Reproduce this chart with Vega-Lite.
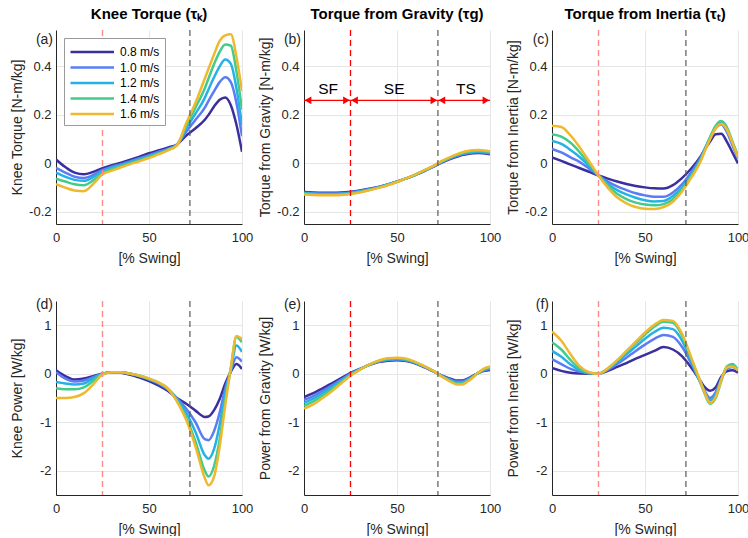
{
"$schema": "https://vega.github.io/schema/vega-lite/v6.json",
"background": "white",
"padding": {"left": 10, "top": 7, "right": 0, "bottom": 0},
"config": {
 "font": "Liberation Sans",
 "view": {"stroke": null},
 "axis": {"labelFontSize": 13, "titleFontSize": 14, "titleFontWeight": "normal", "labelColor": "#262626", "titleColor": "#262626", "domainColor": "#262626", "domainWidth": 1, "ticks": false, "gridColor": "#e6e6e6", "labelPadding": 5, "titlePadding": 4, "labelFlush": false, "labelOverlap": false},
 "axisX": {"labelPadding": 7, "titlePadding": 7},
 "title": {"fontSize": 15, "fontWeight": "bold", "color": "#000000", "offset": 7},
 "text": {"fontSize": 14, "color": "#262626"}
},
"datasets": {
 "ann": [{"x1": 0, "x2": 25, "lab": "SF", "lx": 13}, {"x1": 25, "x2": 72, "lab": "SE", "lx": 48.5}, {"x1": 72, "x2": 100, "lab": "TS", "lx": 87}],
 "d": [
{"p":"a","s":"0.8 m/s","x":0,"y":0.016},{"p":"a","s":"0.8 m/s","x":5,"y":-0.015},{"p":"a","s":"0.8 m/s","x":10,"y":-0.038},{"p":"a","s":"0.8 m/s","x":15,"y":-0.045},{"p":"a","s":"0.8 m/s","x":20,"y":-0.035},{"p":"a","s":"0.8 m/s","x":25,"y":-0.02},{"p":"a","s":"0.8 m/s","x":30,"y":-0.008},{"p":"a","s":"0.8 m/s","x":35,"y":0.003},{"p":"a","s":"0.8 m/s","x":40,"y":0.015},{"p":"a","s":"0.8 m/s","x":45,"y":0.028},{"p":"a","s":"0.8 m/s","x":50,"y":0.042},{"p":"a","s":"0.8 m/s","x":55,"y":0.053},{"p":"a","s":"0.8 m/s","x":60,"y":0.065},{"p":"a","s":"0.8 m/s","x":65,"y":0.078},{"p":"a","s":"0.8 m/s","x":70,"y":0.115},{"p":"a","s":"0.8 m/s","x":75,"y":0.145},{"p":"a","s":"0.8 m/s","x":80,"y":0.18},{"p":"a","s":"0.8 m/s","x":82,"y":0.2},{"p":"a","s":"0.8 m/s","x":85,"y":0.235},{"p":"a","s":"0.8 m/s","x":88,"y":0.262},{"p":"a","s":"0.8 m/s","x":91,"y":0.272},{"p":"a","s":"0.8 m/s","x":94,"y":0.24},{"p":"a","s":"0.8 m/s","x":97,"y":0.16},{"p":"a","s":"0.8 m/s","x":100,"y":0.048},
{"p":"a","s":"1.0 m/s","x":0,"y":-0.018},{"p":"a","s":"1.0 m/s","x":5,"y":-0.038},{"p":"a","s":"1.0 m/s","x":10,"y":-0.055},{"p":"a","s":"1.0 m/s","x":15,"y":-0.06},{"p":"a","s":"1.0 m/s","x":20,"y":-0.048},{"p":"a","s":"1.0 m/s","x":25,"y":-0.027},{"p":"a","s":"1.0 m/s","x":30,"y":-0.014},{"p":"a","s":"1.0 m/s","x":35,"y":-0.003},{"p":"a","s":"1.0 m/s","x":40,"y":0.009},{"p":"a","s":"1.0 m/s","x":45,"y":0.021},{"p":"a","s":"1.0 m/s","x":50,"y":0.034},{"p":"a","s":"1.0 m/s","x":55,"y":0.047},{"p":"a","s":"1.0 m/s","x":60,"y":0.06},{"p":"a","s":"1.0 m/s","x":65,"y":0.077},{"p":"a","s":"1.0 m/s","x":70,"y":0.13},{"p":"a","s":"1.0 m/s","x":75,"y":0.18},{"p":"a","s":"1.0 m/s","x":80,"y":0.23},{"p":"a","s":"1.0 m/s","x":82,"y":0.258},{"p":"a","s":"1.0 m/s","x":85,"y":0.298},{"p":"a","s":"1.0 m/s","x":88,"y":0.335},{"p":"a","s":"1.0 m/s","x":91,"y":0.355},{"p":"a","s":"1.0 m/s","x":94,"y":0.335},{"p":"a","s":"1.0 m/s","x":97,"y":0.25},{"p":"a","s":"1.0 m/s","x":100,"y":0.112},
{"p":"a","s":"1.2 m/s","x":0,"y":-0.038},{"p":"a","s":"1.2 m/s","x":5,"y":-0.055},{"p":"a","s":"1.2 m/s","x":10,"y":-0.068},{"p":"a","s":"1.2 m/s","x":15,"y":-0.072},{"p":"a","s":"1.2 m/s","x":20,"y":-0.057},{"p":"a","s":"1.2 m/s","x":25,"y":-0.033},{"p":"a","s":"1.2 m/s","x":30,"y":-0.019},{"p":"a","s":"1.2 m/s","x":35,"y":-0.007},{"p":"a","s":"1.2 m/s","x":40,"y":0.005},{"p":"a","s":"1.2 m/s","x":45,"y":0.017},{"p":"a","s":"1.2 m/s","x":50,"y":0.03},{"p":"a","s":"1.2 m/s","x":55,"y":0.043},{"p":"a","s":"1.2 m/s","x":60,"y":0.057},{"p":"a","s":"1.2 m/s","x":65,"y":0.076},{"p":"a","s":"1.2 m/s","x":70,"y":0.145},{"p":"a","s":"1.2 m/s","x":75,"y":0.205},{"p":"a","s":"1.2 m/s","x":80,"y":0.27},{"p":"a","s":"1.2 m/s","x":82,"y":0.305},{"p":"a","s":"1.2 m/s","x":85,"y":0.355},{"p":"a","s":"1.2 m/s","x":88,"y":0.4},{"p":"a","s":"1.2 m/s","x":91,"y":0.428},{"p":"a","s":"1.2 m/s","x":94,"y":0.41},{"p":"a","s":"1.2 m/s","x":97,"y":0.31},{"p":"a","s":"1.2 m/s","x":100,"y":0.157},
{"p":"a","s":"1.4 m/s","x":0,"y":-0.063},{"p":"a","s":"1.4 m/s","x":5,"y":-0.075},{"p":"a","s":"1.4 m/s","x":10,"y":-0.086},{"p":"a","s":"1.4 m/s","x":15,"y":-0.09},{"p":"a","s":"1.4 m/s","x":20,"y":-0.07},{"p":"a","s":"1.4 m/s","x":25,"y":-0.04},{"p":"a","s":"1.4 m/s","x":30,"y":-0.024},{"p":"a","s":"1.4 m/s","x":35,"y":-0.011},{"p":"a","s":"1.4 m/s","x":40,"y":0.001},{"p":"a","s":"1.4 m/s","x":45,"y":0.013},{"p":"a","s":"1.4 m/s","x":50,"y":0.026},{"p":"a","s":"1.4 m/s","x":55,"y":0.04},{"p":"a","s":"1.4 m/s","x":60,"y":0.055},{"p":"a","s":"1.4 m/s","x":65,"y":0.075},{"p":"a","s":"1.4 m/s","x":70,"y":0.155},{"p":"a","s":"1.4 m/s","x":75,"y":0.23},{"p":"a","s":"1.4 m/s","x":80,"y":0.31},{"p":"a","s":"1.4 m/s","x":82,"y":0.35},{"p":"a","s":"1.4 m/s","x":85,"y":0.41},{"p":"a","s":"1.4 m/s","x":88,"y":0.46},{"p":"a","s":"1.4 m/s","x":91,"y":0.49},{"p":"a","s":"1.4 m/s","x":94,"y":0.485},{"p":"a","s":"1.4 m/s","x":97,"y":0.38},{"p":"a","s":"1.4 m/s","x":100,"y":0.222},
{"p":"a","s":"1.6 m/s","x":0,"y":-0.086},{"p":"a","s":"1.6 m/s","x":5,"y":-0.1},{"p":"a","s":"1.6 m/s","x":10,"y":-0.112},{"p":"a","s":"1.6 m/s","x":15,"y":-0.115},{"p":"a","s":"1.6 m/s","x":20,"y":-0.085},{"p":"a","s":"1.6 m/s","x":25,"y":-0.045},{"p":"a","s":"1.6 m/s","x":30,"y":-0.03},{"p":"a","s":"1.6 m/s","x":35,"y":-0.016},{"p":"a","s":"1.6 m/s","x":40,"y":-0.003},{"p":"a","s":"1.6 m/s","x":45,"y":0.009},{"p":"a","s":"1.6 m/s","x":50,"y":0.022},{"p":"a","s":"1.6 m/s","x":55,"y":0.037},{"p":"a","s":"1.6 m/s","x":60,"y":0.053},{"p":"a","s":"1.6 m/s","x":65,"y":0.074},{"p":"a","s":"1.6 m/s","x":70,"y":0.165},{"p":"a","s":"1.6 m/s","x":75,"y":0.25},{"p":"a","s":"1.6 m/s","x":80,"y":0.35},{"p":"a","s":"1.6 m/s","x":82,"y":0.39},{"p":"a","s":"1.6 m/s","x":85,"y":0.45},{"p":"a","s":"1.6 m/s","x":88,"y":0.505},{"p":"a","s":"1.6 m/s","x":91,"y":0.528},{"p":"a","s":"1.6 m/s","x":94,"y":0.532},{"p":"a","s":"1.6 m/s","x":97,"y":0.44},{"p":"a","s":"1.6 m/s","x":100,"y":0.297},
{"p":"b","s":"0.8 m/s","x":0,"y":-0.118},{"p":"b","s":"0.8 m/s","x":5,"y":-0.12},{"p":"b","s":"0.8 m/s","x":10,"y":-0.121},{"p":"b","s":"0.8 m/s","x":15,"y":-0.121},{"p":"b","s":"0.8 m/s","x":20,"y":-0.12},{"p":"b","s":"0.8 m/s","x":25,"y":-0.117},{"p":"b","s":"0.8 m/s","x":30,"y":-0.112},{"p":"b","s":"0.8 m/s","x":35,"y":-0.105},{"p":"b","s":"0.8 m/s","x":40,"y":-0.097},{"p":"b","s":"0.8 m/s","x":45,"y":-0.087},{"p":"b","s":"0.8 m/s","x":50,"y":-0.075},{"p":"b","s":"0.8 m/s","x":55,"y":-0.062},{"p":"b","s":"0.8 m/s","x":60,"y":-0.047},{"p":"b","s":"0.8 m/s","x":65,"y":-0.031},{"p":"b","s":"0.8 m/s","x":70,"y":-0.012},{"p":"b","s":"0.8 m/s","x":75,"y":0.006},{"p":"b","s":"0.8 m/s","x":80,"y":0.022},{"p":"b","s":"0.8 m/s","x":82,"y":0.027},{"p":"b","s":"0.8 m/s","x":85,"y":0.034},{"p":"b","s":"0.8 m/s","x":88,"y":0.039},{"p":"b","s":"0.8 m/s","x":91,"y":0.042},{"p":"b","s":"0.8 m/s","x":94,"y":0.043},{"p":"b","s":"0.8 m/s","x":97,"y":0.041},{"p":"b","s":"0.8 m/s","x":100,"y":0.038},
{"p":"b","s":"1.0 m/s","x":0,"y":-0.121},{"p":"b","s":"1.0 m/s","x":5,"y":-0.123},{"p":"b","s":"1.0 m/s","x":10,"y":-0.124},{"p":"b","s":"1.0 m/s","x":15,"y":-0.124},{"p":"b","s":"1.0 m/s","x":20,"y":-0.123},{"p":"b","s":"1.0 m/s","x":25,"y":-0.12},{"p":"b","s":"1.0 m/s","x":30,"y":-0.114},{"p":"b","s":"1.0 m/s","x":35,"y":-0.107},{"p":"b","s":"1.0 m/s","x":40,"y":-0.098},{"p":"b","s":"1.0 m/s","x":45,"y":-0.088},{"p":"b","s":"1.0 m/s","x":50,"y":-0.076},{"p":"b","s":"1.0 m/s","x":55,"y":-0.062},{"p":"b","s":"1.0 m/s","x":60,"y":-0.047},{"p":"b","s":"1.0 m/s","x":65,"y":-0.03},{"p":"b","s":"1.0 m/s","x":70,"y":-0.011},{"p":"b","s":"1.0 m/s","x":75,"y":0.008},{"p":"b","s":"1.0 m/s","x":80,"y":0.025},{"p":"b","s":"1.0 m/s","x":82,"y":0.03},{"p":"b","s":"1.0 m/s","x":85,"y":0.037},{"p":"b","s":"1.0 m/s","x":88,"y":0.042},{"p":"b","s":"1.0 m/s","x":91,"y":0.045},{"p":"b","s":"1.0 m/s","x":94,"y":0.046},{"p":"b","s":"1.0 m/s","x":97,"y":0.044},{"p":"b","s":"1.0 m/s","x":100,"y":0.041},
{"p":"b","s":"1.2 m/s","x":0,"y":-0.123},{"p":"b","s":"1.2 m/s","x":5,"y":-0.125},{"p":"b","s":"1.2 m/s","x":10,"y":-0.126},{"p":"b","s":"1.2 m/s","x":15,"y":-0.126},{"p":"b","s":"1.2 m/s","x":20,"y":-0.125},{"p":"b","s":"1.2 m/s","x":25,"y":-0.122},{"p":"b","s":"1.2 m/s","x":30,"y":-0.116},{"p":"b","s":"1.2 m/s","x":35,"y":-0.108},{"p":"b","s":"1.2 m/s","x":40,"y":-0.099},{"p":"b","s":"1.2 m/s","x":45,"y":-0.088},{"p":"b","s":"1.2 m/s","x":50,"y":-0.076},{"p":"b","s":"1.2 m/s","x":55,"y":-0.062},{"p":"b","s":"1.2 m/s","x":60,"y":-0.046},{"p":"b","s":"1.2 m/s","x":65,"y":-0.029},{"p":"b","s":"1.2 m/s","x":70,"y":-0.01},{"p":"b","s":"1.2 m/s","x":75,"y":0.01},{"p":"b","s":"1.2 m/s","x":80,"y":0.027},{"p":"b","s":"1.2 m/s","x":82,"y":0.032},{"p":"b","s":"1.2 m/s","x":85,"y":0.04},{"p":"b","s":"1.2 m/s","x":88,"y":0.045},{"p":"b","s":"1.2 m/s","x":91,"y":0.048},{"p":"b","s":"1.2 m/s","x":94,"y":0.049},{"p":"b","s":"1.2 m/s","x":97,"y":0.047},{"p":"b","s":"1.2 m/s","x":100,"y":0.044},
{"p":"b","s":"1.4 m/s","x":0,"y":-0.125},{"p":"b","s":"1.4 m/s","x":5,"y":-0.127},{"p":"b","s":"1.4 m/s","x":10,"y":-0.128},{"p":"b","s":"1.4 m/s","x":15,"y":-0.128},{"p":"b","s":"1.4 m/s","x":20,"y":-0.127},{"p":"b","s":"1.4 m/s","x":25,"y":-0.124},{"p":"b","s":"1.4 m/s","x":30,"y":-0.118},{"p":"b","s":"1.4 m/s","x":35,"y":-0.11},{"p":"b","s":"1.4 m/s","x":40,"y":-0.1},{"p":"b","s":"1.4 m/s","x":45,"y":-0.089},{"p":"b","s":"1.4 m/s","x":50,"y":-0.076},{"p":"b","s":"1.4 m/s","x":55,"y":-0.062},{"p":"b","s":"1.4 m/s","x":60,"y":-0.046},{"p":"b","s":"1.4 m/s","x":65,"y":-0.028},{"p":"b","s":"1.4 m/s","x":70,"y":-0.009},{"p":"b","s":"1.4 m/s","x":75,"y":0.011},{"p":"b","s":"1.4 m/s","x":80,"y":0.029},{"p":"b","s":"1.4 m/s","x":82,"y":0.035},{"p":"b","s":"1.4 m/s","x":85,"y":0.043},{"p":"b","s":"1.4 m/s","x":88,"y":0.048},{"p":"b","s":"1.4 m/s","x":91,"y":0.051},{"p":"b","s":"1.4 m/s","x":94,"y":0.052},{"p":"b","s":"1.4 m/s","x":97,"y":0.05},{"p":"b","s":"1.4 m/s","x":100,"y":0.047},
{"p":"b","s":"1.6 m/s","x":0,"y":-0.128},{"p":"b","s":"1.6 m/s","x":5,"y":-0.13},{"p":"b","s":"1.6 m/s","x":10,"y":-0.131},{"p":"b","s":"1.6 m/s","x":15,"y":-0.131},{"p":"b","s":"1.6 m/s","x":20,"y":-0.13},{"p":"b","s":"1.6 m/s","x":25,"y":-0.126},{"p":"b","s":"1.6 m/s","x":30,"y":-0.12},{"p":"b","s":"1.6 m/s","x":35,"y":-0.111},{"p":"b","s":"1.6 m/s","x":40,"y":-0.101},{"p":"b","s":"1.6 m/s","x":45,"y":-0.09},{"p":"b","s":"1.6 m/s","x":50,"y":-0.077},{"p":"b","s":"1.6 m/s","x":55,"y":-0.062},{"p":"b","s":"1.6 m/s","x":60,"y":-0.045},{"p":"b","s":"1.6 m/s","x":65,"y":-0.027},{"p":"b","s":"1.6 m/s","x":70,"y":-0.008},{"p":"b","s":"1.6 m/s","x":75,"y":0.013},{"p":"b","s":"1.6 m/s","x":80,"y":0.031},{"p":"b","s":"1.6 m/s","x":82,"y":0.037},{"p":"b","s":"1.6 m/s","x":85,"y":0.045},{"p":"b","s":"1.6 m/s","x":88,"y":0.051},{"p":"b","s":"1.6 m/s","x":91,"y":0.054},{"p":"b","s":"1.6 m/s","x":94,"y":0.055},{"p":"b","s":"1.6 m/s","x":97,"y":0.053},{"p":"b","s":"1.6 m/s","x":100,"y":0.05},
{"p":"c","s":"0.8 m/s","x":0,"y":0.025},{"p":"c","s":"0.8 m/s","x":5,"y":0.01},{"p":"c","s":"0.8 m/s","x":10,"y":-0.005},{"p":"c","s":"0.8 m/s","x":15,"y":-0.02},{"p":"c","s":"0.8 m/s","x":20,"y":-0.035},{"p":"c","s":"0.8 m/s","x":25,"y":-0.05},{"p":"c","s":"0.8 m/s","x":30,"y":-0.063},{"p":"c","s":"0.8 m/s","x":35,"y":-0.075},{"p":"c","s":"0.8 m/s","x":40,"y":-0.085},{"p":"c","s":"0.8 m/s","x":45,"y":-0.093},{"p":"c","s":"0.8 m/s","x":50,"y":-0.099},{"p":"c","s":"0.8 m/s","x":55,"y":-0.103},{"p":"c","s":"0.8 m/s","x":60,"y":-0.104},{"p":"c","s":"0.8 m/s","x":65,"y":-0.09},{"p":"c","s":"0.8 m/s","x":70,"y":-0.06},{"p":"c","s":"0.8 m/s","x":75,"y":-0.02},{"p":"c","s":"0.8 m/s","x":80,"y":0.03},{"p":"c","s":"0.8 m/s","x":82,"y":0.055},{"p":"c","s":"0.8 m/s","x":85,"y":0.09},{"p":"c","s":"0.8 m/s","x":88,"y":0.12},{"p":"c","s":"0.8 m/s","x":91,"y":0.122},{"p":"c","s":"0.8 m/s","x":94,"y":0.09},{"p":"c","s":"0.8 m/s","x":97,"y":0.045},{"p":"c","s":"0.8 m/s","x":100,"y":0.0},
{"p":"c","s":"1.0 m/s","x":0,"y":0.06},{"p":"c","s":"1.0 m/s","x":5,"y":0.045},{"p":"c","s":"1.0 m/s","x":10,"y":0.025},{"p":"c","s":"1.0 m/s","x":15,"y":0.005},{"p":"c","s":"1.0 m/s","x":20,"y":-0.022},{"p":"c","s":"1.0 m/s","x":25,"y":-0.05},{"p":"c","s":"1.0 m/s","x":30,"y":-0.075},{"p":"c","s":"1.0 m/s","x":35,"y":-0.095},{"p":"c","s":"1.0 m/s","x":40,"y":-0.11},{"p":"c","s":"1.0 m/s","x":45,"y":-0.123},{"p":"c","s":"1.0 m/s","x":50,"y":-0.132},{"p":"c","s":"1.0 m/s","x":55,"y":-0.138},{"p":"c","s":"1.0 m/s","x":60,"y":-0.138},{"p":"c","s":"1.0 m/s","x":65,"y":-0.12},{"p":"c","s":"1.0 m/s","x":70,"y":-0.085},{"p":"c","s":"1.0 m/s","x":75,"y":-0.035},{"p":"c","s":"1.0 m/s","x":80,"y":0.025},{"p":"c","s":"1.0 m/s","x":82,"y":0.058},{"p":"c","s":"1.0 m/s","x":85,"y":0.105},{"p":"c","s":"1.0 m/s","x":88,"y":0.145},{"p":"c","s":"1.0 m/s","x":91,"y":0.16},{"p":"c","s":"1.0 m/s","x":94,"y":0.13},{"p":"c","s":"1.0 m/s","x":97,"y":0.075},{"p":"c","s":"1.0 m/s","x":100,"y":0.02},
{"p":"c","s":"1.2 m/s","x":0,"y":0.092},{"p":"c","s":"1.2 m/s","x":5,"y":0.08},{"p":"c","s":"1.2 m/s","x":10,"y":0.055},{"p":"c","s":"1.2 m/s","x":15,"y":0.025},{"p":"c","s":"1.2 m/s","x":20,"y":-0.012},{"p":"c","s":"1.2 m/s","x":25,"y":-0.05},{"p":"c","s":"1.2 m/s","x":30,"y":-0.085},{"p":"c","s":"1.2 m/s","x":35,"y":-0.11},{"p":"c","s":"1.2 m/s","x":40,"y":-0.128},{"p":"c","s":"1.2 m/s","x":45,"y":-0.142},{"p":"c","s":"1.2 m/s","x":50,"y":-0.152},{"p":"c","s":"1.2 m/s","x":55,"y":-0.157},{"p":"c","s":"1.2 m/s","x":60,"y":-0.155},{"p":"c","s":"1.2 m/s","x":65,"y":-0.135},{"p":"c","s":"1.2 m/s","x":70,"y":-0.098},{"p":"c","s":"1.2 m/s","x":75,"y":-0.045},{"p":"c","s":"1.2 m/s","x":80,"y":0.02},{"p":"c","s":"1.2 m/s","x":82,"y":0.055},{"p":"c","s":"1.2 m/s","x":85,"y":0.107},{"p":"c","s":"1.2 m/s","x":88,"y":0.15},{"p":"c","s":"1.2 m/s","x":91,"y":0.166},{"p":"c","s":"1.2 m/s","x":94,"y":0.14},{"p":"c","s":"1.2 m/s","x":97,"y":0.085},{"p":"c","s":"1.2 m/s","x":100,"y":0.025},
{"p":"c","s":"1.4 m/s","x":0,"y":0.12},{"p":"c","s":"1.4 m/s","x":5,"y":0.11},{"p":"c","s":"1.4 m/s","x":10,"y":0.085},{"p":"c","s":"1.4 m/s","x":15,"y":0.045},{"p":"c","s":"1.4 m/s","x":20,"y":-0.003},{"p":"c","s":"1.4 m/s","x":25,"y":-0.05},{"p":"c","s":"1.4 m/s","x":30,"y":-0.092},{"p":"c","s":"1.4 m/s","x":35,"y":-0.125},{"p":"c","s":"1.4 m/s","x":40,"y":-0.147},{"p":"c","s":"1.4 m/s","x":45,"y":-0.162},{"p":"c","s":"1.4 m/s","x":50,"y":-0.17},{"p":"c","s":"1.4 m/s","x":55,"y":-0.173},{"p":"c","s":"1.4 m/s","x":60,"y":-0.168},{"p":"c","s":"1.4 m/s","x":65,"y":-0.148},{"p":"c","s":"1.4 m/s","x":70,"y":-0.108},{"p":"c","s":"1.4 m/s","x":75,"y":-0.052},{"p":"c","s":"1.4 m/s","x":80,"y":0.015},{"p":"c","s":"1.4 m/s","x":82,"y":0.052},{"p":"c","s":"1.4 m/s","x":85,"y":0.108},{"p":"c","s":"1.4 m/s","x":88,"y":0.155},{"p":"c","s":"1.4 m/s","x":91,"y":0.175},{"p":"c","s":"1.4 m/s","x":94,"y":0.15},{"p":"c","s":"1.4 m/s","x":97,"y":0.09},{"p":"c","s":"1.4 m/s","x":100,"y":0.03},
{"p":"c","s":"1.6 m/s","x":0,"y":0.155},{"p":"c","s":"1.6 m/s","x":5,"y":0.15},{"p":"c","s":"1.6 m/s","x":10,"y":0.115},{"p":"c","s":"1.6 m/s","x":15,"y":0.065},{"p":"c","s":"1.6 m/s","x":20,"y":0.008},{"p":"c","s":"1.6 m/s","x":25,"y":-0.05},{"p":"c","s":"1.6 m/s","x":30,"y":-0.1},{"p":"c","s":"1.6 m/s","x":35,"y":-0.14},{"p":"c","s":"1.6 m/s","x":40,"y":-0.165},{"p":"c","s":"1.6 m/s","x":45,"y":-0.18},{"p":"c","s":"1.6 m/s","x":50,"y":-0.187},{"p":"c","s":"1.6 m/s","x":55,"y":-0.188},{"p":"c","s":"1.6 m/s","x":60,"y":-0.18},{"p":"c","s":"1.6 m/s","x":65,"y":-0.158},{"p":"c","s":"1.6 m/s","x":70,"y":-0.115},{"p":"c","s":"1.6 m/s","x":75,"y":-0.058},{"p":"c","s":"1.6 m/s","x":80,"y":0.01},{"p":"c","s":"1.6 m/s","x":82,"y":0.047},{"p":"c","s":"1.6 m/s","x":85,"y":0.1},{"p":"c","s":"1.6 m/s","x":88,"y":0.145},{"p":"c","s":"1.6 m/s","x":91,"y":0.162},{"p":"c","s":"1.6 m/s","x":94,"y":0.14},{"p":"c","s":"1.6 m/s","x":97,"y":0.085},{"p":"c","s":"1.6 m/s","x":100,"y":0.025},
{"p":"d","s":"0.8 m/s","x":0,"y":0.07},{"p":"d","s":"0.8 m/s","x":5,"y":-0.05},{"p":"d","s":"0.8 m/s","x":10,"y":-0.12},{"p":"d","s":"0.8 m/s","x":15,"y":-0.1},{"p":"d","s":"0.8 m/s","x":20,"y":-0.05},{"p":"d","s":"0.8 m/s","x":25,"y":0.0},{"p":"d","s":"0.8 m/s","x":30,"y":0.03},{"p":"d","s":"0.8 m/s","x":35,"y":0.02},{"p":"d","s":"0.8 m/s","x":40,"y":-0.02},{"p":"d","s":"0.8 m/s","x":45,"y":-0.08},{"p":"d","s":"0.8 m/s","x":50,"y":-0.15},{"p":"d","s":"0.8 m/s","x":55,"y":-0.24},{"p":"d","s":"0.8 m/s","x":60,"y":-0.35},{"p":"d","s":"0.8 m/s","x":65,"y":-0.5},{"p":"d","s":"0.8 m/s","x":70,"y":-0.62},{"p":"d","s":"0.8 m/s","x":75,"y":-0.76},{"p":"d","s":"0.8 m/s","x":80,"y":-0.89},{"p":"d","s":"0.8 m/s","x":82,"y":-0.88},{"p":"d","s":"0.8 m/s","x":85,"y":-0.75},{"p":"d","s":"0.8 m/s","x":88,"y":-0.52},{"p":"d","s":"0.8 m/s","x":91,"y":-0.2},{"p":"d","s":"0.8 m/s","x":94,"y":0.04},{"p":"d","s":"0.8 m/s","x":97,"y":0.2},{"p":"d","s":"0.8 m/s","x":100,"y":0.1},
{"p":"d","s":"1.0 m/s","x":0,"y":0.03},{"p":"d","s":"1.0 m/s","x":5,"y":-0.1},{"p":"d","s":"1.0 m/s","x":10,"y":-0.16},{"p":"d","s":"1.0 m/s","x":15,"y":-0.14},{"p":"d","s":"1.0 m/s","x":20,"y":-0.07},{"p":"d","s":"1.0 m/s","x":25,"y":0.0},{"p":"d","s":"1.0 m/s","x":30,"y":0.03},{"p":"d","s":"1.0 m/s","x":35,"y":0.03},{"p":"d","s":"1.0 m/s","x":40,"y":0.0},{"p":"d","s":"1.0 m/s","x":45,"y":-0.05},{"p":"d","s":"1.0 m/s","x":50,"y":-0.12},{"p":"d","s":"1.0 m/s","x":55,"y":-0.2},{"p":"d","s":"1.0 m/s","x":60,"y":-0.32},{"p":"d","s":"1.0 m/s","x":65,"y":-0.5},{"p":"d","s":"1.0 m/s","x":70,"y":-0.72},{"p":"d","s":"1.0 m/s","x":75,"y":-1.0},{"p":"d","s":"1.0 m/s","x":80,"y":-1.35},{"p":"d","s":"1.0 m/s","x":82,"y":-1.37},{"p":"d","s":"1.0 m/s","x":85,"y":-1.18},{"p":"d","s":"1.0 m/s","x":88,"y":-0.8},{"p":"d","s":"1.0 m/s","x":91,"y":-0.3},{"p":"d","s":"1.0 m/s","x":94,"y":0.06},{"p":"d","s":"1.0 m/s","x":97,"y":0.34},{"p":"d","s":"1.0 m/s","x":100,"y":0.25},
{"p":"d","s":"1.2 m/s","x":0,"y":-0.17},{"p":"d","s":"1.2 m/s","x":5,"y":-0.2},{"p":"d","s":"1.2 m/s","x":10,"y":-0.22},{"p":"d","s":"1.2 m/s","x":15,"y":-0.2},{"p":"d","s":"1.2 m/s","x":20,"y":-0.1},{"p":"d","s":"1.2 m/s","x":25,"y":0.0},{"p":"d","s":"1.2 m/s","x":30,"y":0.03},{"p":"d","s":"1.2 m/s","x":35,"y":0.03},{"p":"d","s":"1.2 m/s","x":40,"y":0.0},{"p":"d","s":"1.2 m/s","x":45,"y":-0.05},{"p":"d","s":"1.2 m/s","x":50,"y":-0.11},{"p":"d","s":"1.2 m/s","x":55,"y":-0.19},{"p":"d","s":"1.2 m/s","x":60,"y":-0.31},{"p":"d","s":"1.2 m/s","x":65,"y":-0.52},{"p":"d","s":"1.2 m/s","x":70,"y":-0.8},{"p":"d","s":"1.2 m/s","x":75,"y":-1.2},{"p":"d","s":"1.2 m/s","x":80,"y":-1.68},{"p":"d","s":"1.2 m/s","x":82,"y":-1.75},{"p":"d","s":"1.2 m/s","x":85,"y":-1.55},{"p":"d","s":"1.2 m/s","x":88,"y":-1.05},{"p":"d","s":"1.2 m/s","x":91,"y":-0.4},{"p":"d","s":"1.2 m/s","x":94,"y":0.09},{"p":"d","s":"1.2 m/s","x":97,"y":0.58},{"p":"d","s":"1.2 m/s","x":100,"y":0.45},
{"p":"d","s":"1.4 m/s","x":0,"y":-0.3},{"p":"d","s":"1.4 m/s","x":5,"y":-0.32},{"p":"d","s":"1.4 m/s","x":10,"y":-0.32},{"p":"d","s":"1.4 m/s","x":15,"y":-0.28},{"p":"d","s":"1.4 m/s","x":20,"y":-0.15},{"p":"d","s":"1.4 m/s","x":25,"y":0.0},{"p":"d","s":"1.4 m/s","x":30,"y":0.03},{"p":"d","s":"1.4 m/s","x":35,"y":0.03},{"p":"d","s":"1.4 m/s","x":40,"y":0.0},{"p":"d","s":"1.4 m/s","x":45,"y":-0.04},{"p":"d","s":"1.4 m/s","x":50,"y":-0.1},{"p":"d","s":"1.4 m/s","x":55,"y":-0.18},{"p":"d","s":"1.4 m/s","x":60,"y":-0.3},{"p":"d","s":"1.4 m/s","x":65,"y":-0.55},{"p":"d","s":"1.4 m/s","x":70,"y":-0.9},{"p":"d","s":"1.4 m/s","x":75,"y":-1.4},{"p":"d","s":"1.4 m/s","x":80,"y":-2.0},{"p":"d","s":"1.4 m/s","x":82,"y":-2.12},{"p":"d","s":"1.4 m/s","x":85,"y":-1.9},{"p":"d","s":"1.4 m/s","x":88,"y":-1.35},{"p":"d","s":"1.4 m/s","x":91,"y":-0.55},{"p":"d","s":"1.4 m/s","x":94,"y":0.12},{"p":"d","s":"1.4 m/s","x":97,"y":0.76},{"p":"d","s":"1.4 m/s","x":100,"y":0.65},
{"p":"d","s":"1.6 m/s","x":0,"y":-0.5},{"p":"d","s":"1.6 m/s","x":5,"y":-0.5},{"p":"d","s":"1.6 m/s","x":10,"y":-0.48},{"p":"d","s":"1.6 m/s","x":15,"y":-0.4},{"p":"d","s":"1.6 m/s","x":20,"y":-0.22},{"p":"d","s":"1.6 m/s","x":25,"y":-0.02},{"p":"d","s":"1.6 m/s","x":30,"y":0.03},{"p":"d","s":"1.6 m/s","x":35,"y":0.03},{"p":"d","s":"1.6 m/s","x":40,"y":0.0},{"p":"d","s":"1.6 m/s","x":45,"y":-0.04},{"p":"d","s":"1.6 m/s","x":50,"y":-0.1},{"p":"d","s":"1.6 m/s","x":55,"y":-0.18},{"p":"d","s":"1.6 m/s","x":60,"y":-0.3},{"p":"d","s":"1.6 m/s","x":65,"y":-0.57},{"p":"d","s":"1.6 m/s","x":70,"y":-0.95},{"p":"d","s":"1.6 m/s","x":75,"y":-1.5},{"p":"d","s":"1.6 m/s","x":80,"y":-2.15},{"p":"d","s":"1.6 m/s","x":82,"y":-2.3},{"p":"d","s":"1.6 m/s","x":85,"y":-2.12},{"p":"d","s":"1.6 m/s","x":88,"y":-1.5},{"p":"d","s":"1.6 m/s","x":91,"y":-0.65},{"p":"d","s":"1.6 m/s","x":94,"y":0.12},{"p":"d","s":"1.6 m/s","x":97,"y":0.78},{"p":"d","s":"1.6 m/s","x":100,"y":0.72},
{"p":"e","s":"0.8 m/s","x":0,"y":-0.48},{"p":"e","s":"0.8 m/s","x":5,"y":-0.4},{"p":"e","s":"0.8 m/s","x":10,"y":-0.3},{"p":"e","s":"0.8 m/s","x":15,"y":-0.2},{"p":"e","s":"0.8 m/s","x":20,"y":-0.09},{"p":"e","s":"0.8 m/s","x":25,"y":0.02},{"p":"e","s":"0.8 m/s","x":30,"y":0.1},{"p":"e","s":"0.8 m/s","x":35,"y":0.18},{"p":"e","s":"0.8 m/s","x":40,"y":0.24},{"p":"e","s":"0.8 m/s","x":45,"y":0.27},{"p":"e","s":"0.8 m/s","x":50,"y":0.28},{"p":"e","s":"0.8 m/s","x":55,"y":0.26},{"p":"e","s":"0.8 m/s","x":60,"y":0.21},{"p":"e","s":"0.8 m/s","x":65,"y":0.13},{"p":"e","s":"0.8 m/s","x":70,"y":0.04},{"p":"e","s":"0.8 m/s","x":75,"y":-0.05},{"p":"e","s":"0.8 m/s","x":80,"y":-0.12},{"p":"e","s":"0.8 m/s","x":82,"y":-0.14},{"p":"e","s":"0.8 m/s","x":85,"y":-0.14},{"p":"e","s":"0.8 m/s","x":88,"y":-0.1},{"p":"e","s":"0.8 m/s","x":91,"y":-0.04},{"p":"e","s":"0.8 m/s","x":94,"y":0.02},{"p":"e","s":"0.8 m/s","x":97,"y":0.06},{"p":"e","s":"0.8 m/s","x":100,"y":0.08},
{"p":"e","s":"1.0 m/s","x":0,"y":-0.54},{"p":"e","s":"1.0 m/s","x":5,"y":-0.46},{"p":"e","s":"1.0 m/s","x":10,"y":-0.35},{"p":"e","s":"1.0 m/s","x":15,"y":-0.24},{"p":"e","s":"1.0 m/s","x":20,"y":-0.12},{"p":"e","s":"1.0 m/s","x":25,"y":0.005},{"p":"e","s":"1.0 m/s","x":30,"y":0.095},{"p":"e","s":"1.0 m/s","x":35,"y":0.183},{"p":"e","s":"1.0 m/s","x":40,"y":0.248},{"p":"e","s":"1.0 m/s","x":45,"y":0.283},{"p":"e","s":"1.0 m/s","x":50,"y":0.293},{"p":"e","s":"1.0 m/s","x":55,"y":0.273},{"p":"e","s":"1.0 m/s","x":60,"y":0.218},{"p":"e","s":"1.0 m/s","x":65,"y":0.135},{"p":"e","s":"1.0 m/s","x":70,"y":0.043},{"p":"e","s":"1.0 m/s","x":75,"y":-0.058},{"p":"e","s":"1.0 m/s","x":80,"y":-0.138},{"p":"e","s":"1.0 m/s","x":82,"y":-0.16},{"p":"e","s":"1.0 m/s","x":85,"y":-0.16},{"p":"e","s":"1.0 m/s","x":88,"y":-0.115},{"p":"e","s":"1.0 m/s","x":91,"y":-0.048},{"p":"e","s":"1.0 m/s","x":94,"y":0.023},{"p":"e","s":"1.0 m/s","x":97,"y":0.073},{"p":"e","s":"1.0 m/s","x":100,"y":0.098},
{"p":"e","s":"1.2 m/s","x":0,"y":-0.6},{"p":"e","s":"1.2 m/s","x":5,"y":-0.515},{"p":"e","s":"1.2 m/s","x":10,"y":-0.4},{"p":"e","s":"1.2 m/s","x":15,"y":-0.28},{"p":"e","s":"1.2 m/s","x":20,"y":-0.145},{"p":"e","s":"1.2 m/s","x":25,"y":-0.01},{"p":"e","s":"1.2 m/s","x":30,"y":0.09},{"p":"e","s":"1.2 m/s","x":35,"y":0.185},{"p":"e","s":"1.2 m/s","x":40,"y":0.255},{"p":"e","s":"1.2 m/s","x":45,"y":0.295},{"p":"e","s":"1.2 m/s","x":50,"y":0.305},{"p":"e","s":"1.2 m/s","x":55,"y":0.285},{"p":"e","s":"1.2 m/s","x":60,"y":0.225},{"p":"e","s":"1.2 m/s","x":65,"y":0.14},{"p":"e","s":"1.2 m/s","x":70,"y":0.045},{"p":"e","s":"1.2 m/s","x":75,"y":-0.065},{"p":"e","s":"1.2 m/s","x":80,"y":-0.155},{"p":"e","s":"1.2 m/s","x":82,"y":-0.18},{"p":"e","s":"1.2 m/s","x":85,"y":-0.18},{"p":"e","s":"1.2 m/s","x":88,"y":-0.13},{"p":"e","s":"1.2 m/s","x":91,"y":-0.055},{"p":"e","s":"1.2 m/s","x":94,"y":0.025},{"p":"e","s":"1.2 m/s","x":97,"y":0.085},{"p":"e","s":"1.2 m/s","x":100,"y":0.115},
{"p":"e","s":"1.4 m/s","x":0,"y":-0.66},{"p":"e","s":"1.4 m/s","x":5,"y":-0.57},{"p":"e","s":"1.4 m/s","x":10,"y":-0.45},{"p":"e","s":"1.4 m/s","x":15,"y":-0.32},{"p":"e","s":"1.4 m/s","x":20,"y":-0.172},{"p":"e","s":"1.4 m/s","x":25,"y":-0.025},{"p":"e","s":"1.4 m/s","x":30,"y":0.085},{"p":"e","s":"1.4 m/s","x":35,"y":0.188},{"p":"e","s":"1.4 m/s","x":40,"y":0.263},{"p":"e","s":"1.4 m/s","x":45,"y":0.308},{"p":"e","s":"1.4 m/s","x":50,"y":0.318},{"p":"e","s":"1.4 m/s","x":55,"y":0.298},{"p":"e","s":"1.4 m/s","x":60,"y":0.233},{"p":"e","s":"1.4 m/s","x":65,"y":0.145},{"p":"e","s":"1.4 m/s","x":70,"y":0.048},{"p":"e","s":"1.4 m/s","x":75,"y":-0.073},{"p":"e","s":"1.4 m/s","x":80,"y":-0.173},{"p":"e","s":"1.4 m/s","x":82,"y":-0.2},{"p":"e","s":"1.4 m/s","x":85,"y":-0.2},{"p":"e","s":"1.4 m/s","x":88,"y":-0.145},{"p":"e","s":"1.4 m/s","x":91,"y":-0.063},{"p":"e","s":"1.4 m/s","x":94,"y":0.028},{"p":"e","s":"1.4 m/s","x":97,"y":0.098},{"p":"e","s":"1.4 m/s","x":100,"y":0.133},
{"p":"e","s":"1.6 m/s","x":0,"y":-0.72},{"p":"e","s":"1.6 m/s","x":5,"y":-0.63},{"p":"e","s":"1.6 m/s","x":10,"y":-0.5},{"p":"e","s":"1.6 m/s","x":15,"y":-0.36},{"p":"e","s":"1.6 m/s","x":20,"y":-0.2},{"p":"e","s":"1.6 m/s","x":25,"y":-0.04},{"p":"e","s":"1.6 m/s","x":30,"y":0.08},{"p":"e","s":"1.6 m/s","x":35,"y":0.19},{"p":"e","s":"1.6 m/s","x":40,"y":0.27},{"p":"e","s":"1.6 m/s","x":45,"y":0.32},{"p":"e","s":"1.6 m/s","x":50,"y":0.33},{"p":"e","s":"1.6 m/s","x":55,"y":0.31},{"p":"e","s":"1.6 m/s","x":60,"y":0.24},{"p":"e","s":"1.6 m/s","x":65,"y":0.15},{"p":"e","s":"1.6 m/s","x":70,"y":0.05},{"p":"e","s":"1.6 m/s","x":75,"y":-0.08},{"p":"e","s":"1.6 m/s","x":80,"y":-0.19},{"p":"e","s":"1.6 m/s","x":82,"y":-0.22},{"p":"e","s":"1.6 m/s","x":85,"y":-0.22},{"p":"e","s":"1.6 m/s","x":88,"y":-0.16},{"p":"e","s":"1.6 m/s","x":91,"y":-0.07},{"p":"e","s":"1.6 m/s","x":94,"y":0.03},{"p":"e","s":"1.6 m/s","x":97,"y":0.11},{"p":"e","s":"1.6 m/s","x":100,"y":0.15},
{"p":"f","s":"0.8 m/s","x":0,"y":0.12},{"p":"f","s":"0.8 m/s","x":5,"y":0.06},{"p":"f","s":"0.8 m/s","x":10,"y":0.02},{"p":"f","s":"0.8 m/s","x":15,"y":0.003},{"p":"f","s":"0.8 m/s","x":20,"y":0.0},{"p":"f","s":"0.8 m/s","x":25,"y":0.0},{"p":"f","s":"0.8 m/s","x":30,"y":0.06},{"p":"f","s":"0.8 m/s","x":35,"y":0.14},{"p":"f","s":"0.8 m/s","x":40,"y":0.22},{"p":"f","s":"0.8 m/s","x":45,"y":0.31},{"p":"f","s":"0.8 m/s","x":50,"y":0.39},{"p":"f","s":"0.8 m/s","x":55,"y":0.47},{"p":"f","s":"0.8 m/s","x":60,"y":0.55},{"p":"f","s":"0.8 m/s","x":65,"y":0.5},{"p":"f","s":"0.8 m/s","x":70,"y":0.36},{"p":"f","s":"0.8 m/s","x":75,"y":0.12},{"p":"f","s":"0.8 m/s","x":80,"y":-0.16},{"p":"f","s":"0.8 m/s","x":82,"y":-0.27},{"p":"f","s":"0.8 m/s","x":85,"y":-0.35},{"p":"f","s":"0.8 m/s","x":88,"y":-0.28},{"p":"f","s":"0.8 m/s","x":91,"y":-0.06},{"p":"f","s":"0.8 m/s","x":94,"y":0.05},{"p":"f","s":"0.8 m/s","x":97,"y":0.07},{"p":"f","s":"0.8 m/s","x":100,"y":0.02},
{"p":"f","s":"1.0 m/s","x":0,"y":0.3},{"p":"f","s":"1.0 m/s","x":5,"y":0.2},{"p":"f","s":"1.0 m/s","x":10,"y":0.1},{"p":"f","s":"1.0 m/s","x":15,"y":0.04},{"p":"f","s":"1.0 m/s","x":20,"y":0.01},{"p":"f","s":"1.0 m/s","x":25,"y":0.0},{"p":"f","s":"1.0 m/s","x":30,"y":0.08},{"p":"f","s":"1.0 m/s","x":35,"y":0.2},{"p":"f","s":"1.0 m/s","x":40,"y":0.33},{"p":"f","s":"1.0 m/s","x":45,"y":0.47},{"p":"f","s":"1.0 m/s","x":50,"y":0.6},{"p":"f","s":"1.0 m/s","x":55,"y":0.72},{"p":"f","s":"1.0 m/s","x":60,"y":0.8},{"p":"f","s":"1.0 m/s","x":65,"y":0.76},{"p":"f","s":"1.0 m/s","x":70,"y":0.55},{"p":"f","s":"1.0 m/s","x":75,"y":0.2},{"p":"f","s":"1.0 m/s","x":80,"y":-0.2},{"p":"f","s":"1.0 m/s","x":82,"y":-0.35},{"p":"f","s":"1.0 m/s","x":85,"y":-0.5},{"p":"f","s":"1.0 m/s","x":88,"y":-0.38},{"p":"f","s":"1.0 m/s","x":91,"y":-0.1},{"p":"f","s":"1.0 m/s","x":94,"y":0.1},{"p":"f","s":"1.0 m/s","x":97,"y":0.14},{"p":"f","s":"1.0 m/s","x":100,"y":0.06},
{"p":"f","s":"1.2 m/s","x":0,"y":0.47},{"p":"f","s":"1.2 m/s","x":5,"y":0.35},{"p":"f","s":"1.2 m/s","x":10,"y":0.19},{"p":"f","s":"1.2 m/s","x":15,"y":0.07},{"p":"f","s":"1.2 m/s","x":20,"y":0.01},{"p":"f","s":"1.2 m/s","x":25,"y":0.0},{"p":"f","s":"1.2 m/s","x":30,"y":0.1},{"p":"f","s":"1.2 m/s","x":35,"y":0.24},{"p":"f","s":"1.2 m/s","x":40,"y":0.4},{"p":"f","s":"1.2 m/s","x":45,"y":0.56},{"p":"f","s":"1.2 m/s","x":50,"y":0.72},{"p":"f","s":"1.2 m/s","x":55,"y":0.86},{"p":"f","s":"1.2 m/s","x":60,"y":0.95},{"p":"f","s":"1.2 m/s","x":65,"y":0.92},{"p":"f","s":"1.2 m/s","x":70,"y":0.68},{"p":"f","s":"1.2 m/s","x":75,"y":0.25},{"p":"f","s":"1.2 m/s","x":80,"y":-0.2},{"p":"f","s":"1.2 m/s","x":82,"y":-0.38},{"p":"f","s":"1.2 m/s","x":85,"y":-0.55},{"p":"f","s":"1.2 m/s","x":88,"y":-0.43},{"p":"f","s":"1.2 m/s","x":91,"y":-0.12},{"p":"f","s":"1.2 m/s","x":94,"y":0.12},{"p":"f","s":"1.2 m/s","x":97,"y":0.17},{"p":"f","s":"1.2 m/s","x":100,"y":0.07},
{"p":"f","s":"1.4 m/s","x":0,"y":0.65},{"p":"f","s":"1.4 m/s","x":5,"y":0.5},{"p":"f","s":"1.4 m/s","x":10,"y":0.28},{"p":"f","s":"1.4 m/s","x":15,"y":0.1},{"p":"f","s":"1.4 m/s","x":20,"y":0.02},{"p":"f","s":"1.4 m/s","x":25,"y":0.0},{"p":"f","s":"1.4 m/s","x":30,"y":0.11},{"p":"f","s":"1.4 m/s","x":35,"y":0.27},{"p":"f","s":"1.4 m/s","x":40,"y":0.45},{"p":"f","s":"1.4 m/s","x":45,"y":0.63},{"p":"f","s":"1.4 m/s","x":50,"y":0.81},{"p":"f","s":"1.4 m/s","x":55,"y":0.97},{"p":"f","s":"1.4 m/s","x":60,"y":1.07},{"p":"f","s":"1.4 m/s","x":65,"y":1.05},{"p":"f","s":"1.4 m/s","x":70,"y":0.78},{"p":"f","s":"1.4 m/s","x":75,"y":0.3},{"p":"f","s":"1.4 m/s","x":80,"y":-0.2},{"p":"f","s":"1.4 m/s","x":82,"y":-0.4},{"p":"f","s":"1.4 m/s","x":85,"y":-0.62},{"p":"f","s":"1.4 m/s","x":88,"y":-0.5},{"p":"f","s":"1.4 m/s","x":91,"y":-0.15},{"p":"f","s":"1.4 m/s","x":94,"y":0.15},{"p":"f","s":"1.4 m/s","x":97,"y":0.2},{"p":"f","s":"1.4 m/s","x":100,"y":0.08},
{"p":"f","s":"1.6 m/s","x":0,"y":0.87},{"p":"f","s":"1.6 m/s","x":5,"y":0.68},{"p":"f","s":"1.6 m/s","x":10,"y":0.4},{"p":"f","s":"1.6 m/s","x":15,"y":0.15},{"p":"f","s":"1.6 m/s","x":20,"y":0.03},{"p":"f","s":"1.6 m/s","x":25,"y":0.0},{"p":"f","s":"1.6 m/s","x":30,"y":0.11},{"p":"f","s":"1.6 m/s","x":35,"y":0.28},{"p":"f","s":"1.6 m/s","x":40,"y":0.47},{"p":"f","s":"1.6 m/s","x":45,"y":0.66},{"p":"f","s":"1.6 m/s","x":50,"y":0.85},{"p":"f","s":"1.6 m/s","x":55,"y":1.01},{"p":"f","s":"1.6 m/s","x":60,"y":1.11},{"p":"f","s":"1.6 m/s","x":65,"y":1.09},{"p":"f","s":"1.6 m/s","x":70,"y":0.82},{"p":"f","s":"1.6 m/s","x":75,"y":0.32},{"p":"f","s":"1.6 m/s","x":80,"y":-0.18},{"p":"f","s":"1.6 m/s","x":82,"y":-0.38},{"p":"f","s":"1.6 m/s","x":85,"y":-0.6},{"p":"f","s":"1.6 m/s","x":88,"y":-0.48},{"p":"f","s":"1.6 m/s","x":91,"y":-0.13},{"p":"f","s":"1.6 m/s","x":94,"y":0.13},{"p":"f","s":"1.6 m/s","x":97,"y":0.15},{"p":"f","s":"1.6 m/s","x":100,"y":0.07}
 ]
},
"resolve": {"scale": {"color": "independent"}, "legend": {"color": "independent"}},
"spacing": 32,
"vconcat": [
 {
  "spacing": 5,
  "resolve": {"scale": {"color": "independent"}, "legend": {"color": "independent"}},
  "hconcat": [
   {
    "width": 186, "height": 194,
    "title": "Knee Torque (τₖ)",
    "layer": [
     {"data": {"name": "d"}, "transform": [{"filter": "datum.p == 'a'"}],
      "mark": {"type": "line", "interpolate": "monotone", "strokeWidth": 2.5, "clip": true},
      "encoding": {
       "x": {"field": "x", "type": "quantitative", "scale": {"domain": [0, 100], "nice": false}, "axis": {"values": [0, 50, 100], "title": "[% Swing]"}},
       "y": {"field": "y", "type": "quantitative", "scale": {"domain": [-0.25, 0.55], "nice": false}, "axis": {"values": [-0.2, 0, 0.2, 0.4], "title": "Knee Torque [N-m/kg]", "labelExpr": "replace(datum.value == 0 ? '0' : format(datum.value, '.1f'), '−', '-')"}},
       "color": {"field": "s", "type": "nominal", "scale": {"domain": ["0.8 m/s", "1.0 m/s", "1.2 m/s", "1.4 m/s", "1.6 m/s"], "range": ["#3b2f9e", "#5b7cf4", "#26b1e6", "#43cb8c", "#efb92f"]},
        "legend": {"orient": "top-left", "offset": 8, "title": null, "symbolType": "M-1,0L4.8,0", "symbolStrokeWidth": 2.5, "symbolSize": 225, "labelOffset": 33, "labelFontSize": 12, "labelColor": "#000000", "strokeColor": "#9a9a9a", "fillColor": "white", "padding": 5, "rowPadding": 0.5}}
      }},
     {"data": {"values": [{}]}, "mark": {"type": "rule", "strokeDash": [6, 4], "color": "#ff8a8a", "strokeWidth": 1.4}, "encoding": {"x": {"datum": 25}}},
     {"data": {"values": [{}]}, "mark": {"type": "rule", "strokeDash": [6, 4], "color": "#5a5a5a", "strokeWidth": 1.2}, "encoding": {"x": {"datum": 72}}},
     {"data": {"values": [{}]}, "mark": {"type": "text", "text": "(a)", "align": "right", "baseline": "middle", "dx": -3}, "encoding": {"x": {"datum": 0}, "y": {"datum": 0.51}}}
    ]
   },
   {
    "width": 186, "height": 194,
    "title": "Torque from Gravity (τg)",
    "layer": [
     {"data": {"name": "d"}, "transform": [{"filter": "datum.p == 'b'"}],
      "mark": {"type": "line", "interpolate": "monotone", "strokeWidth": 2.5, "clip": true},
      "encoding": {
       "x": {"field": "x", "type": "quantitative", "scale": {"domain": [0, 100], "nice": false}, "axis": {"values": [0, 50, 100], "title": "[% Swing]"}},
       "y": {"field": "y", "type": "quantitative", "scale": {"domain": [-0.25, 0.55], "nice": false}, "axis": {"values": [-0.2, 0, 0.2, 0.4], "title": "Torque from Gravity [N-m/kg]", "labelExpr": "replace(datum.value == 0 ? '0' : format(datum.value, '.1f'), '−', '-')"}},
       "color": {"field": "s", "type": "nominal", "scale": {"domain": ["0.8 m/s", "1.0 m/s", "1.2 m/s", "1.4 m/s", "1.6 m/s"], "range": ["#3b2f9e", "#5b7cf4", "#26b1e6", "#43cb8c", "#efb92f"]}, "legend": null}
      }},
     {"data": {"values": [{}]}, "mark": {"type": "rule", "strokeDash": [6, 4], "color": "#ff0000", "strokeWidth": 1.3}, "encoding": {"x": {"datum": 25}}},
     {"data": {"values": [{}]}, "mark": {"type": "rule", "strokeDash": [6, 4], "color": "#5a5a5a", "strokeWidth": 1.2}, "encoding": {"x": {"datum": 72}}},
     {"data": {"name": "ann"}, "mark": {"type": "rule", "color": "#ff0000", "strokeWidth": 1.3}, "encoding": {"x": {"field": "x1", "type": "quantitative"}, "x2": {"field": "x2"}, "y": {"datum": 0.26}}},
     {"data": {"name": "ann"}, "mark": {"type": "point", "shape": "triangle-left", "filled": true, "color": "#ff0000", "opacity": 1, "size": 60, "xOffset": 4}, "encoding": {"x": {"field": "x1", "type": "quantitative"}, "y": {"datum": 0.26}}},
     {"data": {"name": "ann"}, "mark": {"type": "point", "shape": "triangle-right", "filled": true, "color": "#ff0000", "opacity": 1, "size": 60, "xOffset": -4}, "encoding": {"x": {"field": "x2", "type": "quantitative"}, "y": {"datum": 0.26}}},
     {"data": {"name": "ann"}, "mark": {"type": "text", "fontSize": 15.5, "color": "#000000", "baseline": "middle"}, "encoding": {"x": {"field": "lx", "type": "quantitative"}, "y": {"datum": 0.305}, "text": {"field": "lab"}}},
     {"data": {"values": [{}]}, "mark": {"type": "text", "text": "(b)", "align": "right", "baseline": "middle", "dx": -3}, "encoding": {"x": {"datum": 0}, "y": {"datum": 0.51}}}
    ]
   },
   {
    "width": 186, "height": 194,
    "title": "Torque from Inertia (τₜ)",
    "layer": [
     {"data": {"name": "d"}, "transform": [{"filter": "datum.p == 'c'"}],
      "mark": {"type": "line", "interpolate": "monotone", "strokeWidth": 2.5, "clip": true},
      "encoding": {
       "x": {"field": "x", "type": "quantitative", "scale": {"domain": [0, 100], "nice": false}, "axis": {"values": [0, 50, 100], "title": "[% Swing]"}},
       "y": {"field": "y", "type": "quantitative", "scale": {"domain": [-0.25, 0.55], "nice": false}, "axis": {"values": [-0.2, 0, 0.2, 0.4], "title": "Torque from Inertia [N-m/kg]", "labelExpr": "replace(datum.value == 0 ? '0' : format(datum.value, '.1f'), '−', '-')"}},
       "color": {"field": "s", "type": "nominal", "scale": {"domain": ["0.8 m/s", "1.0 m/s", "1.2 m/s", "1.4 m/s", "1.6 m/s"], "range": ["#3b2f9e", "#5b7cf4", "#26b1e6", "#43cb8c", "#efb92f"]}, "legend": null}
      }},
     {"data": {"values": [{}]}, "mark": {"type": "rule", "strokeDash": [6, 4], "color": "#ff8a8a", "strokeWidth": 1.4}, "encoding": {"x": {"datum": 25}}},
     {"data": {"values": [{}]}, "mark": {"type": "rule", "strokeDash": [6, 4], "color": "#5a5a5a", "strokeWidth": 1.2}, "encoding": {"x": {"datum": 72}}},
     {"data": {"values": [{}]}, "mark": {"type": "text", "text": "(c)", "align": "right", "baseline": "middle", "dx": -3}, "encoding": {"x": {"datum": 0}, "y": {"datum": 0.51}}}
    ]
   }
  ]
 },
 {
  "spacing": 5,
  "resolve": {"scale": {"color": "independent"}, "legend": {"color": "independent"}},
  "hconcat": [
   {
    "width": 186, "height": 194,
    "layer": [
     {"data": {"name": "d"}, "transform": [{"filter": "datum.p == 'd'"}],
      "mark": {"type": "line", "interpolate": "monotone", "strokeWidth": 2.5, "clip": true},
      "encoding": {
       "x": {"field": "x", "type": "quantitative", "scale": {"domain": [0, 100], "nice": false}, "axis": {"values": [0, 50, 100], "title": "[% Swing]"}},
       "y": {"field": "y", "type": "quantitative", "scale": {"domain": [-2.5, 1.5], "nice": false}, "axis": {"values": [-2, -1, 0, 1], "title": "Knee Power [W/kg]", "titlePadding": 15, "labelExpr": "replace(format(datum.value, 'd'), '−', '-')"}},
       "color": {"field": "s", "type": "nominal", "scale": {"domain": ["0.8 m/s", "1.0 m/s", "1.2 m/s", "1.4 m/s", "1.6 m/s"], "range": ["#3b2f9e", "#5b7cf4", "#26b1e6", "#43cb8c", "#efb92f"]}, "legend": null}
      }},
     {"data": {"values": [{}]}, "mark": {"type": "rule", "strokeDash": [6, 4], "color": "#ff8a8a", "strokeWidth": 1.4}, "encoding": {"x": {"datum": 25}}},
     {"data": {"values": [{}]}, "mark": {"type": "rule", "strokeDash": [6, 4], "color": "#5a5a5a", "strokeWidth": 1.2}, "encoding": {"x": {"datum": 72}}},
     {"data": {"values": [{}]}, "mark": {"type": "text", "text": "(d)", "align": "right", "baseline": "middle", "dx": -3}, "encoding": {"x": {"datum": 0}, "y": {"datum": 1.42}}}
    ]
   },
   {
    "width": 186, "height": 194,
    "layer": [
     {"data": {"name": "d"}, "transform": [{"filter": "datum.p == 'e'"}],
      "mark": {"type": "line", "interpolate": "monotone", "strokeWidth": 2.5, "clip": true},
      "encoding": {
       "x": {"field": "x", "type": "quantitative", "scale": {"domain": [0, 100], "nice": false}, "axis": {"values": [0, 50, 100], "title": "[% Swing]"}},
       "y": {"field": "y", "type": "quantitative", "scale": {"domain": [-2.5, 1.5], "nice": false}, "axis": {"values": [-2, -1, 0, 1], "title": "Power from Gravity [W/kg]", "titlePadding": 15, "labelExpr": "replace(format(datum.value, 'd'), '−', '-')"}},
       "color": {"field": "s", "type": "nominal", "scale": {"domain": ["0.8 m/s", "1.0 m/s", "1.2 m/s", "1.4 m/s", "1.6 m/s"], "range": ["#3b2f9e", "#5b7cf4", "#26b1e6", "#43cb8c", "#efb92f"]}, "legend": null}
      }},
     {"data": {"values": [{}]}, "mark": {"type": "rule", "strokeDash": [6, 4], "color": "#ff0000", "strokeWidth": 1.3}, "encoding": {"x": {"datum": 25}}},
     {"data": {"values": [{}]}, "mark": {"type": "rule", "strokeDash": [6, 4], "color": "#5a5a5a", "strokeWidth": 1.2}, "encoding": {"x": {"datum": 72}}},
     {"data": {"values": [{}]}, "mark": {"type": "text", "text": "(e)", "align": "right", "baseline": "middle", "dx": -3}, "encoding": {"x": {"datum": 0}, "y": {"datum": 1.42}}}
    ]
   },
   {
    "width": 186, "height": 194,
    "layer": [
     {"data": {"name": "d"}, "transform": [{"filter": "datum.p == 'f'"}],
      "mark": {"type": "line", "interpolate": "monotone", "strokeWidth": 2.5, "clip": true},
      "encoding": {
       "x": {"field": "x", "type": "quantitative", "scale": {"domain": [0, 100], "nice": false}, "axis": {"values": [0, 50, 100], "title": "[% Swing]"}},
       "y": {"field": "y", "type": "quantitative", "scale": {"domain": [-2.5, 1.5], "nice": false}, "axis": {"values": [-2, -1, 0, 1], "title": "Power from Inertia [W/kg]", "titlePadding": 15, "labelExpr": "replace(format(datum.value, 'd'), '−', '-')"}},
       "color": {"field": "s", "type": "nominal", "scale": {"domain": ["0.8 m/s", "1.0 m/s", "1.2 m/s", "1.4 m/s", "1.6 m/s"], "range": ["#3b2f9e", "#5b7cf4", "#26b1e6", "#43cb8c", "#efb92f"]}, "legend": null}
      }},
     {"data": {"values": [{}]}, "mark": {"type": "rule", "strokeDash": [6, 4], "color": "#ff8a8a", "strokeWidth": 1.4}, "encoding": {"x": {"datum": 25}}},
     {"data": {"values": [{}]}, "mark": {"type": "rule", "strokeDash": [6, 4], "color": "#5a5a5a", "strokeWidth": 1.2}, "encoding": {"x": {"datum": 72}}},
     {"data": {"values": [{}]}, "mark": {"type": "text", "text": "(f)", "align": "right", "baseline": "middle", "dx": -3}, "encoding": {"x": {"datum": 0}, "y": {"datum": 1.42}}}
    ]
   }
  ]
 }
]
}
